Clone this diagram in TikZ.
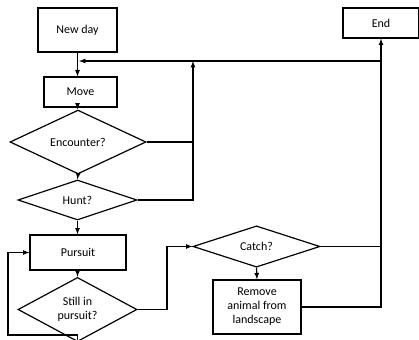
\documentclass[tikz,border=0pt]{standalone}
\usepackage{fontspec}
\setmainfont{Carlito}
\usepackage{tikz}
\usetikzlibrary{shapes,arrows,calc}

\tikzset{
  box/.style={draw, line width=1.2pt, inner sep=0pt, align=center, font=\fontsize{12}{14}\selectfont},
  query/.style={diamond, draw, line width=1.2pt, inner sep=0pt, align=center, font=\fontsize{12}{14}\selectfont},
  flow/.style={line width=1.2pt, ->, >=latex},
  rail/.style={line width=1.2pt}
}

\begin{document}
\begin{tikzpicture}[x=1pt,y=-1pt]

	\useasboundingbox (0,0) rectangle (419,339);

	% boxes and decisions
	\node (newday) at (77.5,30)[box, minimum width=79pt, minimum height=44pt] {New day};
	\node (move) at (80.5,92)[box, minimum width=73pt, minimum height=30pt] {Move};
	\node (enc) at (78,142)[query, minimum width=136pt, minimum height=40pt] {Encounter?};
	\node (hunt) at (77.5,200)[query, minimum width=119pt, minimum height=40pt] {Hunt?};
	\node (pursuit) at (78,252.5)[box, minimum width=96pt, minimum height=35pt] {Pursuit};
	\node (still) at (77.5,309.5)[query, minimum width=119pt, minimum height=45pt] {Still in\\pursuit?};
	\node (catch) at (256.5,246.5)[query, minimum width=127pt, minimum height=39pt] {Catch?};
	\node (remove) at (257,307)[box, minimum width=88pt, minimum height=54pt] {Remove\\animal from\\landscape};
	\node (end) at (381,23)[box, minimum width=76pt, minimum height=30pt] {End};

	% corners of the return lines
	\coordinate (midT) at (193,61);
	\coordinate (railT) at (381,61);
	\coordinate (railB) at (381,307);
	\coordinate (loopL) at (8,335);
	\coordinate (jog) at (167,246.5);

	% main column
	\draw[flow] (newday.south) -- (newday.south |- move.north);
	\draw[flow] (newday.south |- move.south) -- (newday.south |- enc.north);
	\draw[flow] (enc.south) -- (hunt.north);
	\draw[flow] (hunt.south) -- (hunt.south |- pursuit.north);
	\draw[flow] (hunt.south |- pursuit.south) -- (still.north);

	% back to a new move
	\draw[rail] (enc.east) -- (enc.east -| midT);
	\draw[flow] (hunt.east) -| (midT);
	\draw[flow] (railT) -- ($(newday.south |- railT)+(1.5,0)$);

	% pursuit loop
	\draw[flow] (still.south) |- (loopL) |- (pursuit.west);
	\draw[flow] (still.east) -| (jog) -- (catch.west);

	% catch
	\draw[flow] (catch.south) -- (remove.north);
	\draw[rail] (catch.east) -- (catch.east -| railB);
	\draw[flow] (remove.east) -- (railB) -- (end.south);

\end{tikzpicture}
\end{document}
